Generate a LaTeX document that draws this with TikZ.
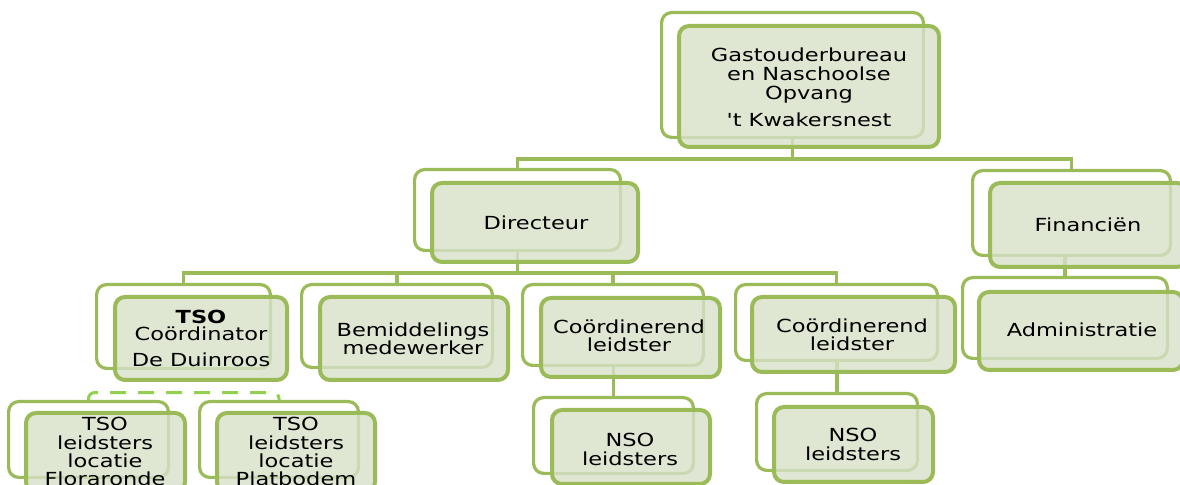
\documentclass[tikz,border=0pt]{standalone}
\usepackage{fontspec}
\setmainfont{DejaVu Sans}
\newfontfamily\orgfont[FakeStretch=1.25]{DejaVu Sans}
\usetikzlibrary{fit}
\definecolor{olive}{RGB}{155,187,89}
\definecolor{frontfill}{RGB}{215,225,201}
\definecolor{dashgreen}{RGB}{146,208,80}
\tikzset{
  backbox/.style={draw=olive, line width=1.6pt, rounded corners=5pt, fill=white, inner sep=0pt},
  frontbox/.style={draw=olive, line width=2pt, rounded corners=5pt, fill=frontfill, fill opacity=0.8, inner sep=0pt},
  label/.style={inner sep=0pt, anchor=north, align=center, text=black, font=\orgfont\fontsize{9}{9.2}\selectfont},
  conn/.style={draw=olive, line width=1.8pt},
  dashconn/.style={draw=dashgreen, line width=1.5pt, dash pattern=on 8pt off 6pt, rounded corners=3pt}
}
\begin{document}
\begin{tikzpicture}[x=0.5pt,y=-0.5pt]
\useasboundingbox (0,0) rectangle (1180,485);
\clip (0,0) rectangle (1180,485);
% back boxes (invisible placement first for connector anchors)
\path
  node[fit={(662,13) (923,137)}, inner sep=0pt] (gB) {}
  node[fit={(415,170) (620,250)}, inner sep=0pt] (dirB) {}
  node[fit={(973,171) (1170,255)}, inner sep=0pt] (finB) {}
  node[fit={(963,278) (1167,358)}, inner sep=0pt] (admB) {}
  node[fit={(97,285) (270,368)}, inner sep=0pt] (tsoB) {}
  node[fit={(302,285) (492,367)}, inner sep=0pt] (bemB) {}
  node[fit={(523,285) (703,365)}, inner sep=0pt] (c1B) {}
  node[fit={(736,285) (937,360)}, inner sep=0pt] (c2B) {}
  node[fit={(534,398) (693,473)}, inner sep=0pt] (n1B) {}
  node[fit={(757,394) (917,470)}, inner sep=0pt] (n2B) {}
  node[fit={(9,402) (168,477)}, inner sep=0pt] (floB) {}
  node[fit={(200,402) (358,477)}, inner sep=0pt] (plaB) {};
% connectors
\draw[conn] (gB.south) -- (gB.south |- 0,159) -| (dirB.north);
\draw[conn] (gB.south |- 0,159) -| (finB.north);
\draw[conn] (dirB.south) -- (dirB.south |- 0,273) -| (tsoB.north);
\draw[conn] (dirB.south |- 0,273) -| (bemB.north);
\draw[conn] (dirB.south |- 0,273) -| (c1B.north);
\draw[conn] (dirB.south |- 0,273) -| (c2B.north);
\draw[conn] (admB.north |- finB.south) -- (admB.north);
\draw[conn] (n1B.north |- c1B.south) -- (n1B.north);
\draw[conn] (n2B.north |- c2B.south) -- (n2B.north);
\draw[dashconn] (floB.north) -- ++(0,-9) -| (plaB.north);
% back boxes drawn
\foreach \b in {gB,dirB,finB,admB,tsoB,bemB,c1B,c2B,n1B,n2B,floB,plaB}{
  \draw[backbox] (\b.north west) rectangle (\b.south east);
}
% front boxes
\node[frontbox, fit={(679,26) (939,147)}] (gF) {};
\node[frontbox, fit={(432,183) (638,262)}] (dirF) {};
\node[frontbox, fit={(990,183) (1187,267)}] (finF) {};
\node[frontbox, fit={(979,292) (1183,370)}] (admF) {};
\node[frontbox, fit={(115,297) (287,380)}] (tsoF) {};
\node[frontbox, fit={(320,297) (508,380)}] (bemF) {};
\node[frontbox, fit={(541,298) (720,377)}] (c1F) {};
\node[frontbox, fit={(752,297) (955,372)}] (c2F) {};
\node[frontbox, fit={(552,410) (710,484)}] (n1F) {};
\node[frontbox, fit={(774,407) (933,482)}] (n2F) {};
\node[frontbox, fit={(26,413) (185,492)}] (floF) {};
\node[frontbox, fit={(217,413) (375,492)}] (plaF) {};
% labels
\node[label, font=\orgfont\fontsize{9}{9.6}\selectfont] (gT) at (809,47) {Gastouderbureau\\en Naschoolse\\Opvang\\[4pt]'t Kwakersnest};
\node[label] (dirT) at (536,215) {Directeur};
\node[label] (finT) at (1088,217) {Financiën};
\node[label] (admT) at (1082,322) {Administratie};
\node[label] (tsoT) at (201,310) {\textbf{TSO}\\[-0.7pt]Coördinator\\[3.5pt]De Duinroos};
\node[label] (bemT) at (413,322) {Bemiddelings\\medewerker};
\node[label] (c1T) at (629,319) {Coördinerend\\leidster};
\node[label] (c2T) at (852,318) {Coördinerend\\leidster};
\node[label] (n1T) at (630,433) {NSO\\leidsters};
\node[label] (n2T) at (853,428) {NSO\\leidsters};
\node[label] (floT) at (105,417) {TSO\\leidsters\\locatie\\Floraronde};
\node[label] (plaT) at (296,417) {TSO\\leidsters\\locatie\\Platbodem};
\end{tikzpicture}
\end{document}
